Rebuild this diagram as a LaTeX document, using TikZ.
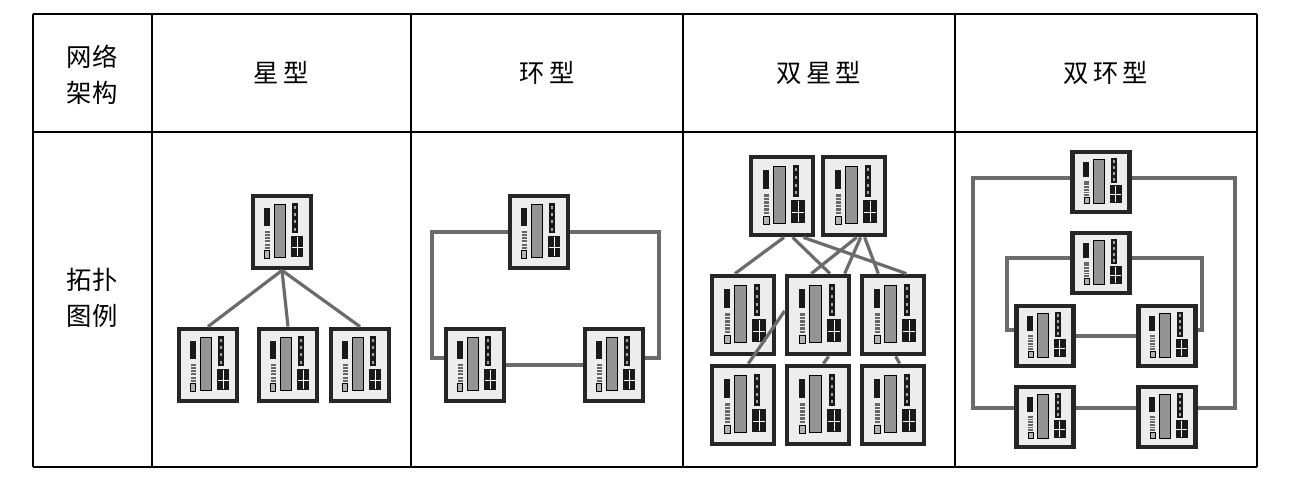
\documentclass[tikz,border=0pt]{standalone}
\usepackage{fontspec}
\newfontfamily\cjk{Noto Sans CJK SC}
\begin{document}
\tikzset{
  rule/.style = {line width=0.9pt},
  frame/.style = {line width=1.9pt},
  link/.style = {line width=2.4pt, black!58},
  head/.style = {font=\cjk\fontsize{19}{27}\selectfont, align=center},
  sw/.style 2 args = {draw=black!85, line width=3.6pt, fill=black!7, inner sep=0pt,
    minimum width=#1, minimum height=#2,
    path picture={
      \begin{scope}[shift={(path picture bounding box.center)}, x={(#1/2,0)}, y={(0,-#2/2)}]
        \fill[black!90] (-0.62,-0.66) rectangle (-0.42,-0.18);
        \foreach \k in {0,...,5}
          \fill[black!60] (-0.58,-0.04+0.09*\k) rectangle (-0.42,0.02+0.09*\k);
        \filldraw[fill=black!30, draw=black, line width=0.5pt] (-0.60,0.52) rectangle (-0.42,0.72);
        \filldraw[fill=black!42, draw=black, line width=0.7pt] (-0.27,-0.76) rectangle (0.12,0.70);
        \fill[black!90] (0.34,-0.80) rectangle (0.56,0.02);
        \foreach \k in {0,...,3}
          \fill[black!35] (0.41,-0.72+0.2*\k) rectangle (0.49,-0.64+0.2*\k);
        \fill[black!90] (0.30,0.10) rectangle (0.74,0.70);
        \draw[white, line width=0.6pt] (0.52,0.13) -- (0.52,0.67) (0.33,0.42) -- (0.71,0.42);
      \end{scope}}},
  ssw/.style = {sw={43.5pt}{54pt}},
  dsw/.style = {sw={46.5pt}{58.5pt}},
  rsw/.style = {sw={42.75pt}{45pt}}
}
\begin{tikzpicture}[x={(0.75pt,0)}, y={(0,-0.75pt)}]
\useasboundingbox (0,0) rectangle (1310,495);

% table
\draw[frame] (33,14) -- (1257,14);
\draw[frame] (33,467) -- (1257,467);
\draw[frame] (33,14) -- (33,467);
\draw[frame] (1257,14) -- (1257,467);
\draw[rule] (33,132) -- (1257,132);
\foreach \c in {152,411,683,955}
  \draw[rule] (\c,14) -- (\c,467);

% texts
\node[head] (h0) at (92,75) {网络\\架构};
\node[head] (h1) at (281,73) {星\,型};
\node[head] (h2) at (547,73) {环\,型};
\node[head] (h3) at (819,73) {双\,星\,型};
\node[head] (h4) at (1106,73) {双\,环\,型};
\node[head] (r0) at (92,298) {拓扑\\图例};

% star
\node[ssw] (st) at (282,232) {};
\node[ssw] (s1) at (208,365) {};
\node[ssw] (s2) at (288,365) {};
\node[ssw] (s3) at (360,365) {};
\draw[link] (st.south) -- (s1.north);
\draw[link] (st.south) -- (s2.north);
\draw[link] (st.south) -- (s3.north);

% ring
\node[ssw] (rt) at (539,232) {};
\node[ssw] (r1) at (475,365) {};
\node[ssw] (r2) at (614,365) {};
\coordinate (ra) at (432,232);
\coordinate (rb) at (432,358);
\coordinate (rc) at (659,232);
\coordinate (rd) at (659,358);
\draw[link] (rt.west) -- (ra) -- (rb) -- (rb -| r1.west);
\draw[link] (rt.east) -- (rc) -- (rd) -- (rd -| r2.east);
\draw[link] (r1.east) -- (r2.west);

% double star
\node[dsw] (da) at (782,196) {};
\node[dsw] (db) at (854,196) {};
\node[dsw] (m1) at (743,315) {};
\node[dsw] (m2) at (818,315) {};
\node[dsw] (m3) at (893,315) {};
\node[dsw] (b1) at (743,405) {};
\node[dsw] (b2) at (818,405) {};
\node[dsw] (b3) at (893,405) {};
\draw[link] ([xshift=1.5pt]da.south) -- ([xshift=-6pt]m1.north);
\draw[link] ([xshift=8pt]da.south) -- ([xshift=9pt]m2.north);
\draw[link] ([xshift=16pt]da.south) -- ([xshift=10pt]m3.north);
\draw[link] ([xshift=2pt]db.south) -- ([xshift=-5pt]m2.north);
\draw[link] ([xshift=5pt]db.south) -- ([xshift=20pt]m2.north);
\draw[link] ([xshift=8pt]db.south) -- ([xshift=-11pt]m3.north);
\draw[link] ([yshift=3pt]m2.west) -- ([xshift=4pt]b1.north);
\draw[link] ([xshift=8pt]m2.south) -- ([xshift=4pt]b2.north);
\draw[link] ([xshift=2pt]m3.south) -- ([xshift=5pt]b3.north);

% double ring
\node[rsw] (q0) at (1101,182) {};
\node[rsw] (q1) at (1101,263) {};
\node[rsw] (q2) at (1045,336) {};
\node[rsw] (q3) at (1167,336) {};
\node[rsw] (q4) at (1045,417) {};
\node[rsw] (q5) at (1167,417) {};
\coordinate (oa) at (973,178);
\coordinate (ob) at (973,408);
\coordinate (oc) at (1235,178);
\coordinate (od) at (1235,408);
\coordinate (ia) at (1007,258);
\coordinate (ib) at (1007,330);
\coordinate (ic) at (1202,258);
\coordinate (id) at (1202,330);
\draw[link] (oa -| q0.west) -- (oa) -- (ob) -- (ob -| q4.west);
\draw[link] (oc -| q0.east) -- (oc) -- (od) -- (od -| q5.east);
\draw[link] (ia -| q1.west) -- (ia) -- (ib) -- (ib -| q2.west);
\draw[link] (ic -| q1.east) -- (ic) -- (id) -- (id -| q3.east);
\draw[link] (q2.east) -- (q3.west);
\draw[link] (ob -| q4.east) -- (ob -| q5.west);
\end{tikzpicture}
\end{document}
